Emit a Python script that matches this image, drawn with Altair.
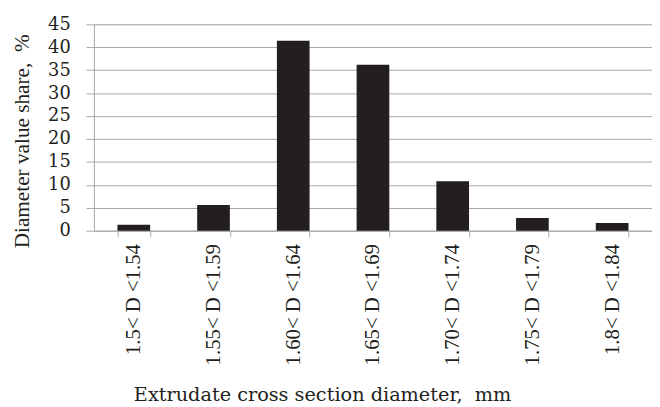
import altair as alt
import pandas as pd

categories = ["1.5< D <1.54", "1.55< D <1.59", "1.60< D <1.64", "1.65< D <1.69",
              "1.70< D <1.74", "1.75< D <1.79", "1.8< D <1.84"]
shares = [1.3, 5.6, 41.4, 36.2, 10.8, 2.8, 1.7]

df = pd.DataFrame({"range": categories, "share": shares})

grid_col = "#a8a8a8"
rot_font = "Liberation Serif"
hor_font = "DejaVu Serif"

chart = alt.Chart(df).mark_bar(color="#231f20").encode(
    x=alt.X("range:N", sort=categories,
            scale=alt.Scale(paddingInner=0.59, paddingOuter=0.295),
            axis=alt.Axis(title="Extrudate cross section diameter,\u00a0 mm",
                          labelAngle=270, labelAlign="right", labelBaseline="middle",
                          labelPadding=7, tickSize=6, tickBand="extent",
                          tickColor=grid_col, domainColor=grid_col, grid=False,
                          labelFont=rot_font, labelFontSize=21, labelColor="#231f20",
                          titleFont=hor_font, titleFontSize=19.5, titleFontWeight="normal",
                          titleColor="#231f20", titleX=231, titleY=172,
                          titleBaseline="alphabetic", titleAlign="center")),
    y=alt.Y("share:Q", scale=alt.Scale(domain=[0, 45], nice=False),
            axis=alt.Axis(title="Diameter value share,\u00a0 %", values=list(range(0, 46, 5)),
                          tickSize=8, tickColor=grid_col, domainColor=grid_col,
                          gridColor=grid_col, labelPadding=16,
                          labelFont=hor_font, labelFontSize=18, labelColor="#231f20",
                          titleFont=rot_font, titleFontSize=21.5, titleFontWeight="normal",
                          titleColor="#231f20", titleAngle=270, titleX=-72, titleY=118,
                          titleBaseline="middle", titleAlign="center")),
).properties(
    width=565, height=209,
    autosize=alt.AutoSizeParams(type="none"),
    padding={"left": 87, "top": 14, "right": 0, "bottom": 180},
).configure_view(stroke=None).configure(background="white")

chart.save("out.html", embed_options={"renderer": "svg", "actions": False})
